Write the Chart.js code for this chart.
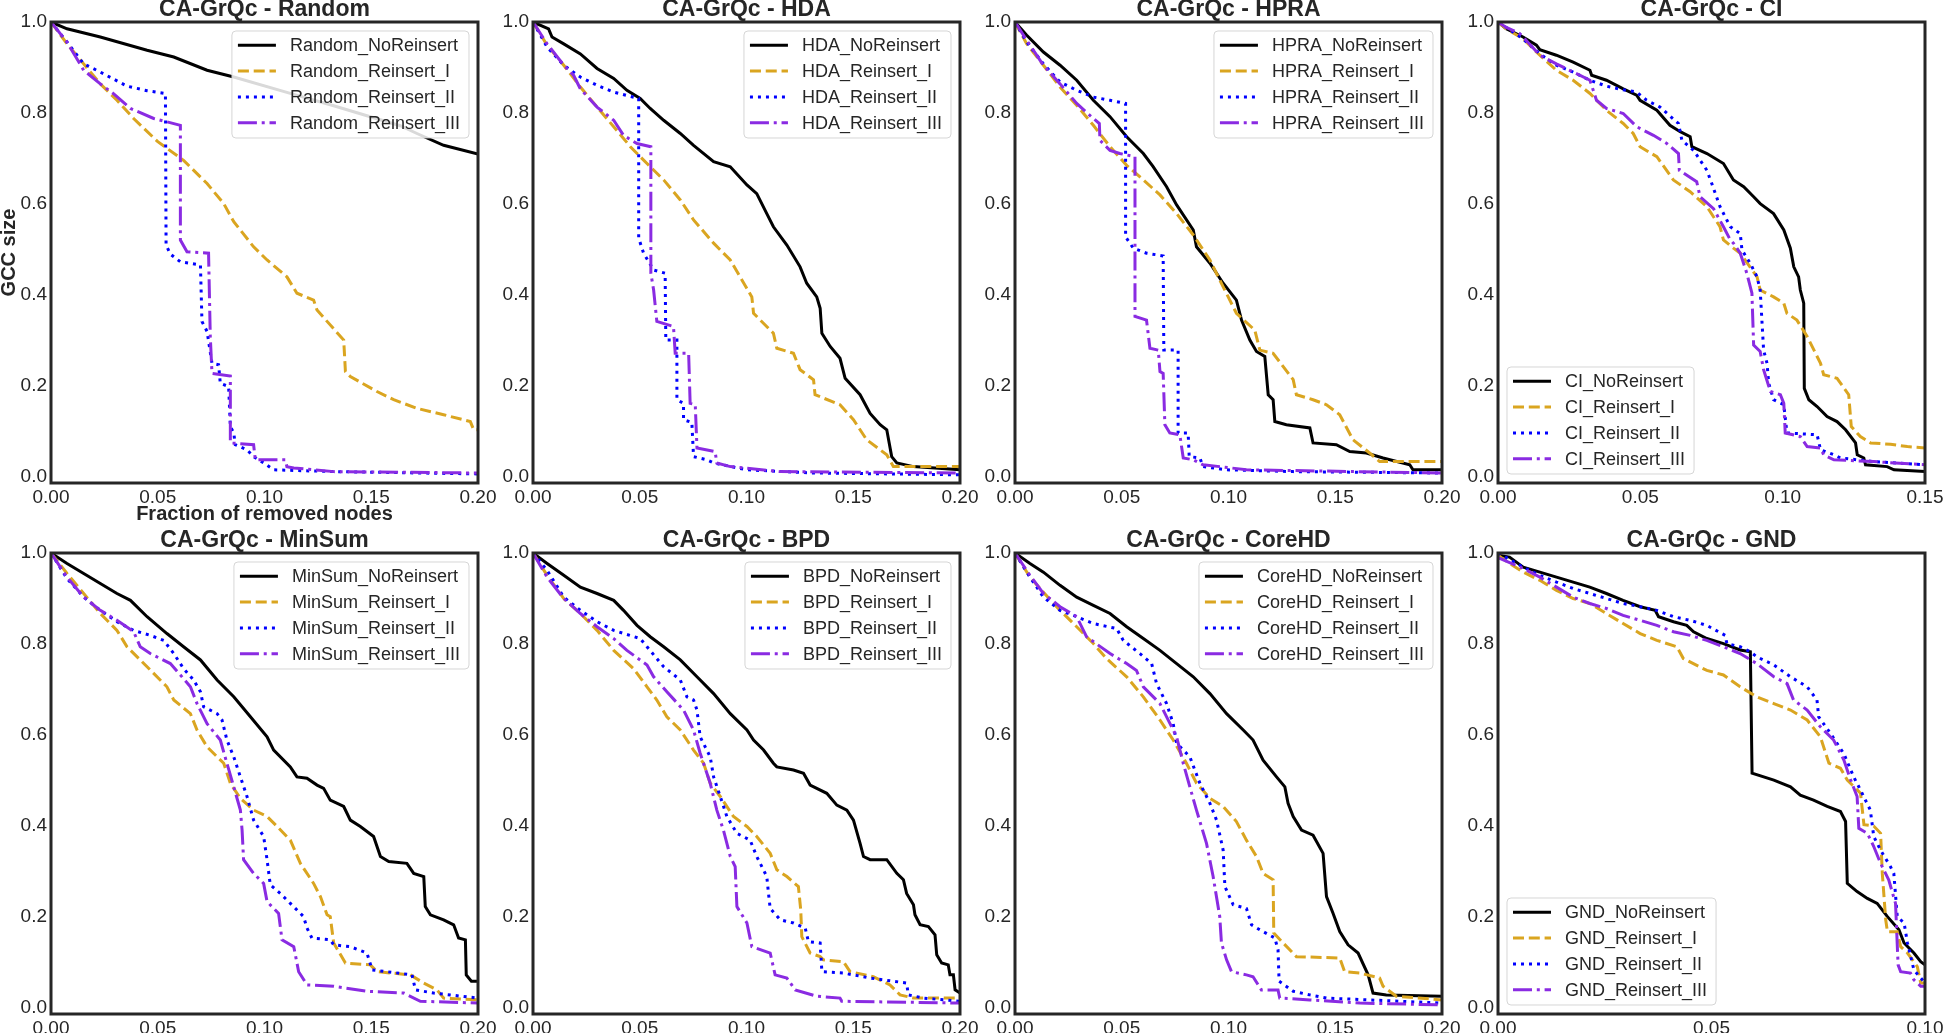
<!DOCTYPE html>
<html>
<head>
<meta charset="utf-8">
<script src="https://cdn.jsdelivr.net/npm/chart.js@4.4.0/dist/chart.umd.min.js"></script>
<style>
html, body { margin: 0; padding: 0; background: #fff; overflow: hidden; width: 1943px; height: 1033px; }
.panel { position: absolute; }
</style>
</head>
<body>
<script>
// tick labels
const yTicks = [0, 0.2, 0.4, 0.6, 0.8, 1.0];
const xTicks20 = [0, 0.05, 0.10, 0.15, 0.20];
const xTicks15 = [0, 0.05, 0.10, 0.15];
const xTicks10 = [0, 0.05, 0.10];

const methods = ['Random', 'HDA', 'HPRA', 'CI', 'MinSum', 'BPD', 'CoreHD', 'GND'];
const variants = ['NoReinsert', 'Reinsert_I', 'Reinsert_II', 'Reinsert_III'];

// [fraction removed, GCC size]
const randomNo = [[0,1],[0.0075,0.985],[0.0231,0.967],[0.045,0.938],[0.0575,0.923],[0.0731,0.894],[0.0856,0.879],[0.1137,0.841],[0.1324,0.816],[0.148,0.794],[0.1636,0.772],[0.1714,0.755],[0.1839,0.729],[0.2,0.71]];
const randomI = [[0,1],[0.0075,0.952],[0.0153,0.908],[0.0231,0.864],[0.0309,0.828],[0.0387,0.788],[0.05,0.737],[0.0621,0.696],[0.0731,0.645],[0.0809,0.601],[0.0856,0.561],[0.0949,0.506],[0.1012,0.477],[0.1105,0.44],[0.1152,0.404],[0.123,0.389],[0.1246,0.367],[0.1371,0.301],[0.1379,0.232],[0.1402,0.221],[0.1527,0.188],[0.1605,0.17],[0.1714,0.151],[0.1839,0.137],[0.1964,0.122],[0.198,0.104],[0.2,0.104]];
const randomII = [[0,1],[0.0075,0.956],[0.0153,0.908],[0.0231,0.89],[0.0356,0.859],[0.045,0.849],[0.0536,0.843],[0.0539,0.51],[0.0559,0.49],[0.0606,0.473],[0.07,0.466],[0.0707,0.342],[0.0731,0.32],[0.0754,0.25],[0.0785,0.247],[0.0793,0.206],[0.0832,0.199],[0.084,0.111],[0.0856,0.097],[0.0863,0.071],[0.0918,0.06],[0.0949,0.045],[0.0996,0.031],[0.1043,0.016],[0.1324,0.012],[0.2,0.007]];
const randomIII = [[0,1],[0.0075,0.956],[0.0153,0.894],[0.0231,0.864],[0.0294,0.842],[0.0372,0.81],[0.0481,0.788],[0.0606,0.773],[0.0606,0.521],[0.0637,0.495],[0.0738,0.492],[0.0746,0.309],[0.0754,0.228],[0.084,0.222],[0.084,0.075],[0.0949,0.071],[0.0957,0.038],[0.1098,0.038],[0.1105,0.023],[0.1137,0.02],[0.1324,0.012],[0.2,0.009]];

const hdaNo = [[0,1],[0.0073,0.985],[0.0089,0.967],[0.0144,0.952],[0.0222,0.93],[0.03,0.898],[0.0378,0.876],[0.044,0.85],[0.0502,0.832],[0.0549,0.81],[0.0612,0.784],[0.069,0.755],[0.0752,0.729],[0.0846,0.693],[0.0924,0.682],[0.1002,0.642],[0.1048,0.623],[0.1095,0.579],[0.1126,0.55],[0.1189,0.51],[0.1251,0.462],[0.1282,0.426],[0.1329,0.396],[0.1345,0.371],[0.1353,0.316],[0.1392,0.287],[0.1438,0.261],[0.1462,0.217],[0.1532,0.181],[0.1579,0.14],[0.1626,0.115],[0.1657,0.104],[0.168,0.045],[0.1704,0.031],[0.1782,0.023],[0.2,0.016]];
const hdaI = [[0,1],[0.0066,0.949],[0.0144,0.905],[0.0222,0.857],[0.03,0.813],[0.0378,0.77],[0.0456,0.726],[0.0534,0.689],[0.0612,0.653],[0.069,0.609],[0.0752,0.565],[0.0846,0.514],[0.0924,0.477],[0.097,0.44],[0.1025,0.396],[0.1033,0.36],[0.1126,0.316],[0.1142,0.283],[0.122,0.272],[0.1251,0.236],[0.1314,0.214],[0.1321,0.181],[0.1438,0.159],[0.1501,0.126],[0.1563,0.082],[0.1657,0.049],[0.1688,0.023],[0.2,0.023]];
const hdaII = [[0,1],[0.0066,0.945],[0.0144,0.905],[0.0222,0.879],[0.03,0.861],[0.0378,0.846],[0.0495,0.832],[0.0495,0.525],[0.0518,0.492],[0.0565,0.455],[0.0619,0.448],[0.0622,0.301],[0.0674,0.301],[0.0674,0.17],[0.0705,0.162],[0.0705,0.126],[0.0744,0.12],[0.0752,0.045],[0.0814,0.038],[0.0846,0.031],[0.1002,0.016],[0.1314,0.009],[0.2,0.005]];
const hdaIII = [[0,1],[0.0066,0.952],[0.0144,0.905],[0.019,0.883],[0.0222,0.853],[0.03,0.813],[0.0378,0.784],[0.0424,0.751],[0.0487,0.733],[0.0552,0.726],[0.0552,0.448],[0.0565,0.411],[0.058,0.342],[0.0658,0.331],[0.0666,0.272],[0.0729,0.272],[0.0736,0.162],[0.076,0.159],[0.0768,0.064],[0.0853,0.056],[0.0861,0.031],[0.0924,0.023],[0.1158,0.012],[0.2,0.009]];

const hpraNo = [[0,1],[0.0055,0.971],[0.0133,0.934],[0.0211,0.905],[0.0289,0.872],[0.0367,0.828],[0.0445,0.792],[0.0523,0.748],[0.0601,0.711],[0.0647,0.682],[0.071,0.638],[0.0757,0.598],[0.0835,0.543],[0.085,0.506],[0.0913,0.47],[0.0975,0.426],[0.1037,0.389],[0.1061,0.345],[0.11,0.301],[0.1131,0.276],[0.117,0.265],[0.1186,0.181],[0.1209,0.17],[0.1217,0.122],[0.1271,0.115],[0.1381,0.108],[0.1396,0.075],[0.1505,0.071],[0.1568,0.056],[0.1646,0.053],[0.1724,0.042],[0.1849,0.027],[0.1864,0.016],[0.2,0.016]];
const hpraI = [[0,1],[0.0055,0.952],[0.0133,0.905],[0.0211,0.857],[0.0289,0.817],[0.0367,0.773],[0.0445,0.726],[0.0523,0.685],[0.0601,0.653],[0.0679,0.62],[0.0757,0.579],[0.0835,0.532],[0.0913,0.477],[0.0975,0.418],[0.1037,0.36],[0.1123,0.323],[0.1147,0.279],[0.1209,0.272],[0.1303,0.214],[0.1318,0.181],[0.1396,0.17],[0.1459,0.159],[0.1521,0.137],[0.1583,0.082],[0.1661,0.053],[0.1708,0.034],[0.2,0.034]];
const hpraII = [[0,1],[0.0055,0.956],[0.0133,0.908],[0.0211,0.868],[0.0289,0.85],[0.0367,0.835],[0.0445,0.828],[0.0518,0.821],[0.0518,0.528],[0.0554,0.503],[0.0616,0.492],[0.0694,0.486],[0.0697,0.279],[0.0764,0.279],[0.0764,0.097],[0.0811,0.097],[0.0816,0.045],[0.0866,0.042],[0.0881,0.023],[0.0991,0.016],[0.1303,0.012],[0.2,0.009]];
const hpraIII = [[0,1],[0.0055,0.96],[0.0133,0.905],[0.0211,0.864],[0.0289,0.821],[0.0367,0.788],[0.0395,0.777],[0.0398,0.74],[0.0445,0.718],[0.0491,0.711],[0.0562,0.704],[0.0562,0.353],[0.0616,0.345],[0.0632,0.283],[0.0671,0.279],[0.0679,0.232],[0.0694,0.228],[0.0702,0.115],[0.0725,0.097],[0.0772,0.093],[0.0788,0.042],[0.0835,0.038],[0.0881,0.027],[0.0959,0.023],[0.1084,0.016],[0.2,0.009]];

const ciNo = [[0,1],[0.0029,0.985],[0.0088,0.967],[0.0135,0.949],[0.0147,0.939],[0.0205,0.927],[0.0264,0.912],[0.0323,0.894],[0.0329,0.883],[0.0381,0.872],[0.044,0.853],[0.0487,0.839],[0.0499,0.828],[0.0558,0.806],[0.0604,0.773],[0.064,0.759],[0.0675,0.748],[0.0681,0.726],[0.0734,0.711],[0.0792,0.689],[0.0827,0.653],[0.0863,0.638],[0.0898,0.616],[0.0921,0.601],[0.0968,0.579],[0.1004,0.543],[0.1027,0.503],[0.1039,0.462],[0.1056,0.44],[0.1062,0.411],[0.1074,0.382],[0.1076,0.195],[0.1092,0.17],[0.1121,0.155],[0.1156,0.133],[0.1191,0.122],[0.1221,0.104],[0.1256,0.075],[0.1262,0.049],[0.1285,0.042],[0.1291,0.027],[0.1367,0.023],[0.1391,0.016],[0.15,0.012]];
const ciI = [[0,1],[0.0029,0.985],[0.0088,0.963],[0.0147,0.927],[0.0205,0.894],[0.0264,0.872],[0.0323,0.843],[0.0381,0.806],[0.044,0.777],[0.0475,0.755],[0.0499,0.726],[0.0558,0.704],[0.0616,0.653],[0.0675,0.627],[0.0734,0.594],[0.078,0.55],[0.0792,0.521],[0.0827,0.503],[0.0851,0.492],[0.091,0.44],[0.0921,0.411],[0.0968,0.396],[0.1004,0.382],[0.1015,0.36],[0.105,0.345],[0.1086,0.309],[0.1133,0.25],[0.1144,0.225],[0.1191,0.217],[0.1232,0.181],[0.1241,0.111],[0.1273,0.089],[0.1309,0.075],[0.1379,0.072],[0.1438,0.067],[0.15,0.064]];
const ciII = [[0,1],[0.0029,0.988],[0.0088,0.963],[0.0147,0.93],[0.0205,0.905],[0.0264,0.89],[0.0323,0.872],[0.0381,0.859],[0.044,0.851],[0.0487,0.846],[0.0522,0.828],[0.0569,0.813],[0.0634,0.777],[0.0646,0.74],[0.0687,0.718],[0.0734,0.674],[0.0751,0.645],[0.078,0.594],[0.0816,0.55],[0.0851,0.535],[0.0857,0.499],[0.0886,0.47],[0.091,0.44],[0.0921,0.411],[0.0933,0.279],[0.0945,0.25],[0.0951,0.206],[0.0968,0.17],[0.1004,0.159],[0.1015,0.097],[0.1121,0.093],[0.1133,0.06],[0.118,0.049],[0.1203,0.042],[0.132,0.034],[0.15,0.027]];
const ciIII = [[0,1],[0.0029,0.988],[0.0076,0.975],[0.0147,0.927],[0.0205,0.908],[0.0264,0.89],[0.0323,0.872],[0.0346,0.828],[0.0381,0.81],[0.044,0.799],[0.0487,0.77],[0.0546,0.751],[0.0593,0.733],[0.0634,0.711],[0.0637,0.674],[0.0698,0.649],[0.071,0.616],[0.0757,0.59],[0.0792,0.55],[0.0816,0.521],[0.0827,0.514],[0.0851,0.492],[0.0874,0.448],[0.0892,0.404],[0.0898,0.29],[0.0921,0.276],[0.0933,0.236],[0.0957,0.188],[0.0992,0.181],[0.1004,0.162],[0.1009,0.097],[0.1062,0.089],[0.1086,0.067],[0.1133,0.064],[0.1144,0.049],[0.118,0.038],[0.132,0.034],[0.15,0.027]];

const minsumNo = [[0,1],[0.0075,0.977],[0.0153,0.955],[0.0231,0.933],[0.0309,0.911],[0.0372,0.896],[0.045,0.86],[0.0543,0.823],[0.0621,0.794],[0.07,0.765],[0.0778,0.721],[0.0856,0.684],[0.0934,0.64],[0.1012,0.596],[0.1043,0.567],[0.1121,0.53],[0.1152,0.508],[0.1199,0.505],[0.1246,0.49],[0.1277,0.483],[0.1308,0.457],[0.1371,0.443],[0.1402,0.413],[0.1449,0.399],[0.1511,0.377],[0.1543,0.333],[0.1582,0.322],[0.1667,0.318],[0.1699,0.296],[0.1746,0.289],[0.1753,0.223],[0.1777,0.205],[0.1839,0.194],[0.1886,0.183],[0.1909,0.154],[0.1941,0.15],[0.1945,0.073],[0.1969,0.059],[0.2,0.059]];
const minsumI = [[0,1],[0.0075,0.955],[0.0153,0.911],[0.0231,0.867],[0.0309,0.83],[0.0356,0.794],[0.045,0.75],[0.0543,0.706],[0.0575,0.677],[0.0653,0.647],[0.0684,0.611],[0.0731,0.574],[0.0809,0.538],[0.084,0.494],[0.0887,0.461],[0.0949,0.435],[0.1012,0.421],[0.1059,0.399],[0.1121,0.369],[0.1168,0.318],[0.123,0.274],[0.1262,0.245],[0.1293,0.205],[0.1308,0.201],[0.1324,0.143],[0.1379,0.099],[0.1496,0.095],[0.1527,0.08],[0.1683,0.073],[0.1746,0.055],[0.1808,0.04],[0.1839,0.022],[0.2,0.018]];
const minsumII = [[0,1],[0.0075,0.944],[0.0153,0.903],[0.0231,0.874],[0.0309,0.849],[0.0387,0.83],[0.0465,0.819],[0.0528,0.808],[0.0575,0.779],[0.0621,0.746],[0.0668,0.721],[0.07,0.695],[0.0715,0.662],[0.0778,0.647],[0.0801,0.633],[0.0824,0.589],[0.0856,0.552],[0.0887,0.508],[0.0918,0.465],[0.0949,0.413],[0.0996,0.377],[0.1012,0.326],[0.1027,0.271],[0.1074,0.252],[0.1121,0.23],[0.1183,0.201],[0.1199,0.176],[0.1222,0.154],[0.1308,0.15],[0.1324,0.139],[0.1402,0.135],[0.148,0.121],[0.1504,0.084],[0.1691,0.073],[0.1707,0.04],[0.1792,0.033],[0.2,0.022]];
const minsumIII = [[0,1],[0.0075,0.947],[0.0153,0.903],[0.0231,0.874],[0.0309,0.852],[0.0387,0.827],[0.0418,0.794],[0.0465,0.779],[0.0559,0.757],[0.0606,0.732],[0.0653,0.706],[0.0684,0.669],[0.0731,0.625],[0.0793,0.589],[0.0824,0.538],[0.0856,0.486],[0.0887,0.435],[0.0895,0.391],[0.0902,0.326],[0.0949,0.296],[0.0996,0.274],[0.1012,0.234],[0.1066,0.208],[0.1082,0.15],[0.1137,0.135],[0.116,0.08],[0.1199,0.051],[0.1324,0.048],[0.148,0.037],[0.1652,0.033],[0.173,0.015],[0.2,0.011]];

const bpdNo = [[0,1],[0.0066,0.977],[0.0144,0.951],[0.0222,0.925],[0.03,0.911],[0.0378,0.896],[0.0424,0.874],[0.0487,0.841],[0.0549,0.816],[0.0612,0.794],[0.069,0.765],[0.0768,0.728],[0.0846,0.691],[0.0924,0.647],[0.1002,0.611],[0.1033,0.589],[0.108,0.567],[0.1126,0.538],[0.1142,0.53],[0.122,0.523],[0.1267,0.516],[0.1298,0.49],[0.1376,0.472],[0.1423,0.446],[0.147,0.435],[0.1501,0.413],[0.1532,0.362],[0.1548,0.333],[0.1579,0.326],[0.1657,0.326],[0.1704,0.296],[0.1735,0.282],[0.175,0.252],[0.1782,0.227],[0.1789,0.205],[0.1813,0.183],[0.1852,0.179],[0.1883,0.161],[0.1891,0.117],[0.1914,0.099],[0.1945,0.095],[0.1953,0.073],[0.1969,0.073],[0.1977,0.04],[0.2,0.033]];
const bpdI = [[0,1],[0.0066,0.951],[0.0144,0.9],[0.0222,0.867],[0.03,0.83],[0.0378,0.786],[0.0471,0.746],[0.0534,0.706],[0.058,0.677],[0.0627,0.64],[0.069,0.611],[0.0752,0.567],[0.0799,0.538],[0.083,0.494],[0.0877,0.465],[0.0939,0.421],[0.1002,0.399],[0.1048,0.377],[0.1111,0.34],[0.1142,0.304],[0.1189,0.289],[0.1243,0.267],[0.1254,0.216],[0.1259,0.157],[0.1298,0.121],[0.1345,0.113],[0.136,0.106],[0.1454,0.102],[0.1485,0.08],[0.1594,0.069],[0.1672,0.051],[0.1719,0.029],[0.1782,0.022],[0.2,0.022]];
const bpdII = [[0,1],[0.0066,0.962],[0.0144,0.903],[0.0222,0.874],[0.03,0.849],[0.0378,0.83],[0.0502,0.812],[0.0534,0.794],[0.0612,0.75],[0.069,0.721],[0.0721,0.684],[0.0752,0.677],[0.0768,0.655],[0.0783,0.596],[0.083,0.552],[0.0846,0.508],[0.0877,0.465],[0.0908,0.421],[0.0955,0.384],[0.1017,0.369],[0.1048,0.333],[0.1095,0.289],[0.1103,0.252],[0.1111,0.219],[0.1158,0.194],[0.122,0.187],[0.1275,0.176],[0.129,0.146],[0.1345,0.143],[0.1353,0.08],[0.1454,0.077],[0.1579,0.066],[0.175,0.055],[0.1758,0.029],[0.1828,0.022],[0.2,0.015]];
const bpdIII = [[0,1],[0.0066,0.947],[0.0144,0.9],[0.0222,0.867],[0.03,0.838],[0.0378,0.812],[0.044,0.786],[0.0534,0.754],[0.0565,0.728],[0.0627,0.695],[0.0705,0.655],[0.0752,0.611],[0.0783,0.56],[0.083,0.494],[0.0861,0.435],[0.0892,0.391],[0.0924,0.333],[0.0947,0.311],[0.0955,0.223],[0.1002,0.187],[0.1025,0.135],[0.1111,0.121],[0.1134,0.073],[0.1189,0.066],[0.1228,0.04],[0.1329,0.026],[0.1438,0.022],[0.1446,0.015],[0.2,0.011]];

const corehdNo = [[0,1],[0.007,0.977],[0.0133,0.958],[0.0211,0.929],[0.0289,0.903],[0.0367,0.885],[0.0445,0.867],[0.0523,0.838],[0.0601,0.812],[0.0679,0.786],[0.0757,0.757],[0.0835,0.728],[0.0913,0.691],[0.0991,0.647],[0.1069,0.611],[0.1115,0.589],[0.1162,0.545],[0.1225,0.508],[0.1264,0.486],[0.1279,0.45],[0.1303,0.421],[0.1342,0.391],[0.1396,0.38],[0.1443,0.34],[0.1459,0.245],[0.149,0.208],[0.1521,0.168],[0.156,0.139],[0.1607,0.121],[0.1654,0.073],[0.1677,0.033],[0.1739,0.029],[0.2,0.026]];
const corehdI = [[0,1],[0.007,0.947],[0.0133,0.914],[0.0211,0.874],[0.0289,0.838],[0.0367,0.801],[0.0429,0.768],[0.0523,0.728],[0.0601,0.684],[0.0679,0.633],[0.0741,0.589],[0.0803,0.538],[0.085,0.494],[0.0913,0.461],[0.0975,0.443],[0.1037,0.41],[0.1084,0.369],[0.1131,0.333],[0.1162,0.296],[0.1209,0.282],[0.1212,0.165],[0.1256,0.143],[0.1318,0.113],[0.1521,0.11],[0.1544,0.08],[0.1615,0.077],[0.1708,0.066],[0.1724,0.048],[0.1786,0.026],[0.2,0.018]];
const corehdII = [[0,1],[0.007,0.947],[0.0133,0.903],[0.0211,0.874],[0.0289,0.86],[0.0367,0.845],[0.0476,0.834],[0.0507,0.808],[0.0585,0.779],[0.064,0.757],[0.0663,0.713],[0.071,0.669],[0.0741,0.625],[0.0757,0.582],[0.0819,0.552],[0.0866,0.494],[0.0913,0.45],[0.0944,0.413],[0.0975,0.347],[0.0983,0.267],[0.1022,0.227],[0.1084,0.219],[0.1108,0.183],[0.1147,0.172],[0.1217,0.154],[0.1232,0.128],[0.1237,0.059],[0.1303,0.037],[0.1381,0.029],[0.1459,0.022],[0.2,0.011]];
const corehdIII = [[0,1],[0.007,0.951],[0.0133,0.911],[0.0211,0.882],[0.0289,0.86],[0.0335,0.816],[0.0445,0.779],[0.0523,0.757],[0.0569,0.742],[0.0601,0.706],[0.0679,0.669],[0.0757,0.596],[0.0788,0.538],[0.0819,0.486],[0.085,0.435],[0.0897,0.362],[0.0928,0.289],[0.0959,0.201],[0.0967,0.143],[0.0991,0.106],[0.1014,0.08],[0.1084,0.073],[0.1115,0.069],[0.1154,0.04],[0.1232,0.04],[0.124,0.022],[0.1381,0.018],[0.1615,0.011],[0.2,0.007]];

const gndNo = [[0,0.995],[0.0027,0.991],[0.0059,0.969],[0.0098,0.958],[0.0137,0.947],[0.0176,0.936],[0.0215,0.925],[0.0254,0.911],[0.0293,0.896],[0.0333,0.882],[0.0368,0.874],[0.0376,0.86],[0.0411,0.849],[0.0442,0.841],[0.0458,0.827],[0.0489,0.812],[0.0528,0.801],[0.0567,0.787],[0.0591,0.783],[0.0595,0.516],[0.0646,0.501],[0.0685,0.486],[0.0708,0.468],[0.0739,0.457],[0.0771,0.443],[0.0802,0.432],[0.0814,0.41],[0.0818,0.274],[0.0841,0.256],[0.0865,0.241],[0.0888,0.23],[0.0912,0.201],[0.0939,0.172],[0.0951,0.143],[0.0974,0.121],[0.099,0.102],[0.1,0.095]];
const gndI = [[0,0.995],[0.0027,0.977],[0.0059,0.958],[0.0098,0.94],[0.0137,0.918],[0.0176,0.9],[0.0215,0.889],[0.0254,0.867],[0.0293,0.845],[0.0333,0.823],[0.0372,0.808],[0.0419,0.794],[0.0434,0.768],[0.0489,0.742],[0.0528,0.732],[0.0567,0.706],[0.0606,0.684],[0.0646,0.669],[0.0685,0.655],[0.0724,0.633],[0.0755,0.596],[0.0775,0.538],[0.0802,0.527],[0.0818,0.501],[0.0849,0.472],[0.0857,0.403],[0.088,0.4],[0.0896,0.384],[0.09,0.296],[0.0908,0.194],[0.0912,0.168],[0.0935,0.168],[0.0943,0.135],[0.0959,0.121],[0.0982,0.091],[0.099,0.055],[0.1,0.055]];
const gndII = [[0,1],[0.0059,0.969],[0.0098,0.951],[0.0137,0.936],[0.0176,0.922],[0.0215,0.911],[0.0254,0.9],[0.0293,0.889],[0.0333,0.882],[0.0372,0.874],[0.0411,0.86],[0.045,0.852],[0.0489,0.841],[0.0532,0.819],[0.0536,0.801],[0.0567,0.794],[0.0591,0.783],[0.0606,0.772],[0.0646,0.754],[0.0685,0.728],[0.0724,0.706],[0.0747,0.677],[0.0751,0.64],[0.0779,0.603],[0.081,0.559],[0.0833,0.508],[0.0849,0.479],[0.0872,0.435],[0.088,0.377],[0.0896,0.347],[0.0919,0.311],[0.0927,0.296],[0.0935,0.201],[0.0951,0.187],[0.0959,0.143],[0.0974,0.084],[0.1,0.055]];
const gndIII = [[0,0.99],[0.0059,0.966],[0.0098,0.947],[0.0137,0.925],[0.0176,0.903],[0.0215,0.889],[0.0254,0.878],[0.0293,0.863],[0.0333,0.852],[0.0372,0.841],[0.0411,0.827],[0.045,0.819],[0.0489,0.808],[0.0528,0.794],[0.0567,0.779],[0.0606,0.757],[0.0646,0.728],[0.0677,0.713],[0.0692,0.677],[0.0724,0.655],[0.0755,0.618],[0.0786,0.589],[0.081,0.545],[0.0826,0.501],[0.0841,0.465],[0.0845,0.395],[0.0865,0.384],[0.088,0.355],[0.0896,0.318],[0.0915,0.282],[0.0931,0.23],[0.0937,0.095],[0.0943,0.08],[0.0966,0.077],[0.0974,0.062],[0.099,0.048],[0.1,0.048]];

const allSeries = [
    [randomNo, randomI, randomII, randomIII],
    [hdaNo, hdaI, hdaII, hdaIII],
    [hpraNo, hpraI, hpraII, hpraIII],
    [ciNo, ciI, ciII, ciIII],
    [minsumNo, minsumI, minsumII, minsumIII],
    [bpdNo, bpdI, bpdII, bpdIII],
    [corehdNo, corehdI, corehdII, corehdIII],
    [gndNo, gndI, gndII, gndIII]
];
const allXTicks = [xTicks20, xTicks20, xTicks20, xTicks15, xTicks20, xTicks20, xTicks20, xTicks10];
const legendCorner = ['ur', 'ur', 'ur', 'll', 'ur', 'ur', 'ur', 'll'];

// styles
const lineColors = ['#000000', '#DAA520', '#0000FF', '#8A2BE2'];
const lineDashes = [[], [11, 4.8], [3, 5], [19, 4.8, 3, 4.8]];
const ink = '#262626';

// layout (px)
const colLeft = [51, 533, 1015, 1498];
const rowTop = [22, 553];
const plotW = 427, plotH = 461;

Chart.defaults.font.family = "'Liberation Sans', Arial, sans-serif";

const framePlugin = {
    id: 'frame',
    afterDatasetsDraw(chart) {
        const a = chart.chartArea;
        const ctx = chart.ctx;
        ctx.save();
        ctx.strokeStyle = ink;
        ctx.lineWidth = 3;
        ctx.strokeRect(a.left, a.top, a.right - a.left, a.bottom - a.top);
        ctx.restore();
    }
};

const boxLegend = {
    id: 'boxLegend',
    afterDatasetsDraw(chart, args, opts) {
        const ctx = chart.ctx;
        const a = chart.chartArea;
        const sets = chart.data.datasets;
        ctx.save();
        ctx.font = "18px 'Liberation Sans', Arial, sans-serif";
        let tw = 0;
        sets.forEach(function (d) { tw = Math.max(tw, ctx.measureText(d.label).width); });
        const w = 67 + tw, h = 107, row = 25.8;
        const left = opts.corner === 'll' ? a.left + 9 : a.right - 9 - w;
        const top = opts.corner === 'll' ? a.bottom - 9 - h : a.top + 9;
        ctx.beginPath();
        ctx.roundRect(left, top, w, h, 4);
        ctx.fillStyle = 'rgba(255,255,255,0.85)';
        ctx.fill();
        ctx.strokeStyle = 'rgba(204,204,204,0.8)';
        ctx.lineWidth = 1;
        ctx.stroke();
        sets.forEach(function (d, i) {
            const cy = top + 14.3 + i * row;
            ctx.beginPath();
            ctx.setLineDash(d.borderDash);
            ctx.strokeStyle = d.borderColor;
            ctx.lineWidth = d.borderWidth;
            ctx.moveTo(left + 6, cy);
            ctx.lineTo(left + 44, cy);
            ctx.stroke();
            ctx.setLineDash([]);
            ctx.fillStyle = ink;
            ctx.textBaseline = 'middle';
            ctx.textAlign = 'left';
            ctx.fillText(d.label, left + 58, cy + 1);
        });
        ctx.restore();
    }
};

methods.forEach(function (m, i) {
    const col = i % 4, row = Math.floor(i / 4);
    const first = i === 0;
    const yw = first ? 54 : 50;
    const xh = first ? 43 : 30;
    const xt = allXTicks[i];

    const div = document.createElement('div');
    div.className = 'panel';
    div.style.left = (colLeft[col] - yw) + 'px';
    div.style.top = (rowTop[row] - 28) + 'px';
    div.style.width = (yw + plotW + 24) + 'px';
    div.style.height = (28 + plotH + xh) + 'px';
    const canvas = document.createElement('canvas');
    div.appendChild(canvas);
    document.body.appendChild(div);

    const datasets = allSeries[i].map(function (pts, k) {
        return {
            label: m + '_' + variants[k],
            data: pts.map(function (p) { return {x: p[0], y: p[1]}; }),
            borderColor: lineColors[k],
            borderDash: lineDashes[k],
            borderWidth: 3,
            pointRadius: 0,
            fill: false,
            tension: 0,
            order: 4 - k
        };
    });

    new Chart(canvas, {
        type: 'line',
        data: {datasets: datasets},
        options: {
            responsive: true,
            maintainAspectRatio: false,
            animation: false,
            devicePixelRatio: 1,
            layout: {padding: {left: 0, right: 24, top: 0, bottom: 0}},
            scales: {
                x: {
                    type: 'linear',
                    min: 0,
                    max: xt[xt.length - 1],
                    grid: {display: false, drawTicks: false},
                    border: {display: false},
                    ticks: {
                        font: {size: 19},
                        color: ink,
                        padding: 3,
                        maxRotation: 0,
                        autoSkip: false,
                        callback: function (v) { return Number(v).toFixed(2); }
                    },
                    afterBuildTicks: function (s) { s.ticks = xt.map(function (v) { return {value: v}; }); },
                    afterFit: function (s) { s.height = xh; },
                    title: {
                        display: first,
                        text: 'Fraction of removed nodes',
                        font: {size: 20, weight: 'bold', lineHeight: '24px'},
                        color: ink,
                        padding: 0
                    }
                },
                y: {
                    min: -0.013,
                    max: 1.0,
                    grid: {display: false, drawTicks: false},
                    border: {display: false},
                    ticks: {
                        font: {size: 19},
                        color: ink,
                        padding: 4,
                        callback: function (v) { return Number(v).toFixed(1); }
                    },
                    afterBuildTicks: function (s) { s.ticks = yTicks.map(function (v) { return {value: v}; }); },
                    afterFit: function (s) { s.width = yw; },
                    title: {
                        display: first,
                        text: 'GCC size',
                        font: {size: 20, weight: 'bold', lineHeight: '24px'},
                        color: ink,
                        padding: 0
                    }
                }
            },
            plugins: {
                legend: {display: false},
                tooltip: {enabled: false},
                title: {
                    display: true,
                    text: 'CA-GrQc - ' + m,
                    fullSize: false,
                    color: ink,
                    font: {size: 23, weight: 'bold', lineHeight: '24px'},
                    padding: {top: 4, bottom: 0}
                },
                boxLegend: {corner: legendCorner[i]}
            }
        },
        plugins: [framePlugin, boxLegend]
    });
});
</script>
</body>
</html>
